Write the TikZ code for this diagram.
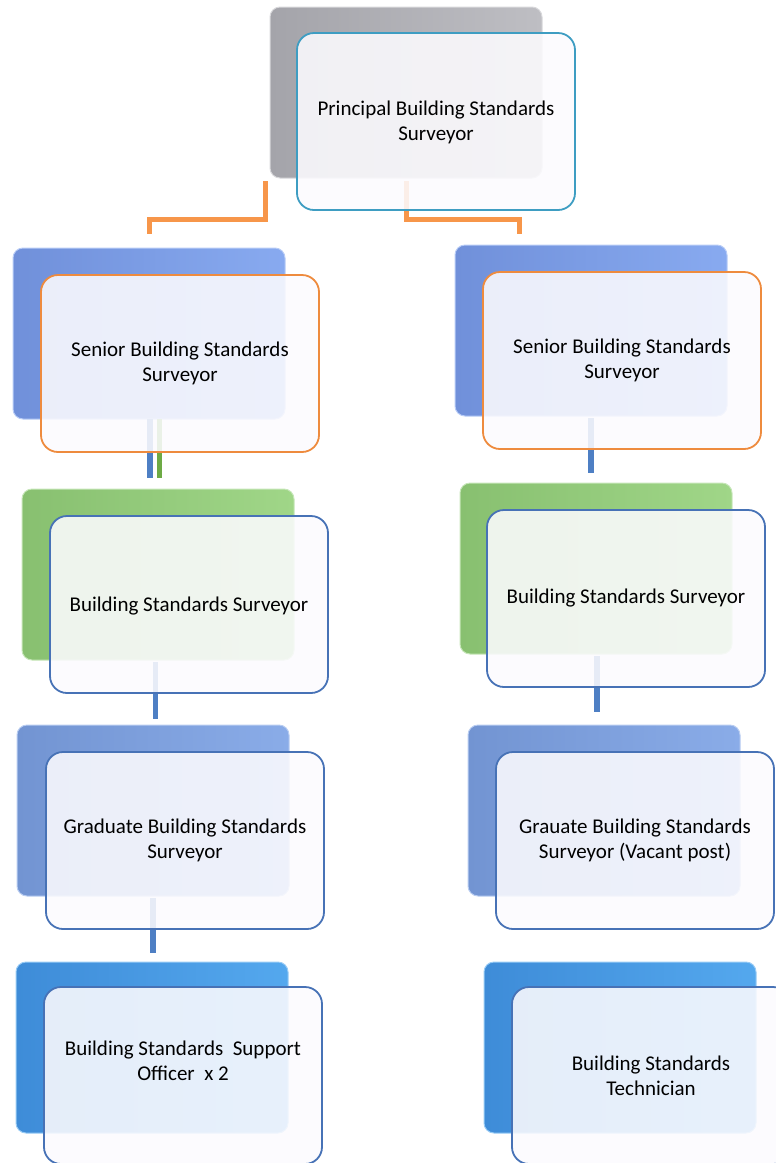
\documentclass[tikz,border=0pt]{standalone}
\usepackage{fontspec}
\setmainfont{Carlito}
\usetikzlibrary{calc}
\definecolor{frontfill}{HTML}{FCFBFE}
\definecolor{bordteal}{HTML}{3E9DC2}
\definecolor{bordorange}{HTML}{EE8B3E}
\definecolor{bordblue}{HTML}{4772B6}
\definecolor{connblue}{HTML}{4E7FC4}
\definecolor{conngreen}{HTML}{6DAA45}
\definecolor{connorange}{HTML}{F7964A}
\definecolor{greyL}{HTML}{A4A4AA}\definecolor{greyR}{HTML}{BEBEC3}
\definecolor{blueL}{HTML}{7090DA}\definecolor{blueR}{HTML}{88AAF0}
\definecolor{greenL}{HTML}{88C070}\definecolor{greenR}{HTML}{A0D688}
\definecolor{gradL}{HTML}{7294D2}\definecolor{gradR}{HTML}{8AACE8}
\definecolor{suppL}{HTML}{3E8CD8}\definecolor{suppR}{HTML}{54A8EE}
\newfontfamily\boxfontfam{Carlito}
\tikzset{
  backbox/.style n args={2}{rectangle, rounded corners=10pt, minimum width=272pt, minimum height=171pt,
     inner sep=0pt, outer sep=0pt, anchor=north west, left color=#1, right color=#2,
     draw=#2!60!white, line width=1pt},
  frontbox/.style={rectangle, rounded corners=17pt, minimum width=278pt, minimum height=177pt,
     inner sep=0pt, outer sep=0pt, anchor=north west, fill=frontfill, fill opacity=0.88,
     draw opacity=1, text opacity=1, line width=1.8pt, draw=#1},
  boxtext/.style={align=center, font=\boxfontfam\fontsize{21}{25}\selectfont, text=black, inner sep=0pt},
  conn/.style={line width=5.5pt, draw=#1},
}
\begin{document}
\begin{tikzpicture}[x=1pt,y=-1pt]
\useasboundingbox (0,0) rectangle (776,1163);
\clip (0,0) rectangle (776,1163);
% back boxes
\node[backbox={greyL}{greyR}] (p-b) at (270,7) {};
\node[backbox={blueL}{blueR}] (sl-b) at (13,248) {};
\node[backbox={blueL}{blueR}] (sr-b) at (455,245) {};
\node[backbox={greenL}{greenR}] (bl-b) at (22,489) {};
\node[backbox={greenL}{greenR}] (br-b) at (460,483) {};
\node[backbox={gradL}{gradR}] (gl-b) at (17,725) {};
\node[backbox={gradL}{gradR}] (gr-b) at (468,725) {};
\node[backbox={suppL}{suppR}] (su-b) at (16,962) {};
\node[backbox={suppL}{suppR}] (te-b) at (484,962) {};
% connectors
\draw[conn=connorange, line width=5pt, shorten >=14pt]
  ([xshift=-5pt,yshift=-3pt]p-b.south west) -- ++(0,38) -| (sl-b.north);
\draw[conn=connorange, line width=5pt, shorten >=11pt]
  ([yshift=-3pt]p-b.south) -- ++(0,38) -| ([xshift=-71.5pt]sr-b.north);
\draw[conn=connblue, shorten >=11pt]
  ([xshift=1pt]sl-b.south) -- ([xshift=1pt]sl-b.south |- bl-b.north);
\draw[conn=conngreen, shorten >=11pt]
  ([xshift=10.5pt]sl-b.south) -- ([xshift=10.5pt]sl-b.south |- bl-b.north);
\draw[conn=connblue, shorten >=10pt]
  ([yshift=-2pt]sr-b.south) -- (sr-b.south |- br-b.north);
\draw[conn=connblue, shorten >=6pt]
  ([xshift=-2.5pt,yshift=-2pt]bl-b.south) -- ([xshift=-2.5pt]bl-b.south |- gl-b.north);
\draw[conn=connblue, shorten >=13pt]
  ([xshift=1pt,yshift=-2pt]br-b.south) -- ([xshift=1pt]br-b.south |- gr-b.north);
\draw[conn=connblue, shorten >=9pt]
  ([xshift=0pt,yshift=-2pt]gl-b.south) -- ([xshift=0pt]gl-b.south |- su-b.north);
% front boxes
\node[frontbox=bordteal] (p-f) at (297,33) {};
\node[frontbox=bordorange] (sl-f) at (41,275) {};
\node[frontbox=bordorange] (sr-f) at (483,272) {};
\node[frontbox=bordblue] (bl-f) at (50,516) {};
\node[frontbox=bordblue] (br-f) at (487,510) {};
\node[frontbox=bordblue] (gl-f) at (46,752) {};
\node[frontbox=bordblue] (gr-f) at (496,752) {};
\node[frontbox=bordblue] (su-f) at (44,987) {};
\node[frontbox=bordblue] (te-f) at (512,987) {};
% texts
\node[boxtext] (p-t) at ([yshift=-1pt]p-f.center) {Principal Building Standards\\Surveyor};
\node[boxtext] (sl-t) at (sl-f.center) {Senior Building Standards\\Surveyor};
\node[boxtext] (sr-t) at (sr-f.center) {Senior Building Standards\\Surveyor};
\node[boxtext] (bl-t) at ([yshift=-2pt]bl-f.center) {Building Standards Surveyor};
\node[boxtext] (br-t) at (br-f.center) {Building Standards Surveyor};
\node[boxtext] (gl-t) at (gl-f.center) {Graduate Building Standards\\Surveyor};
\node[boxtext] (gr-t) at (gr-f.center) {Grauate Building Standards\\Surveyor (Vacant post)};
\node[boxtext] (su-t) at ([yshift=15pt]su-f.center) {Building Standards\ \ Support\\Officer\ \ x 2};
\node[boxtext] (te-t) at (te-f.center) {Building Standards\\Technician};
\end{tikzpicture}
\end{document}
